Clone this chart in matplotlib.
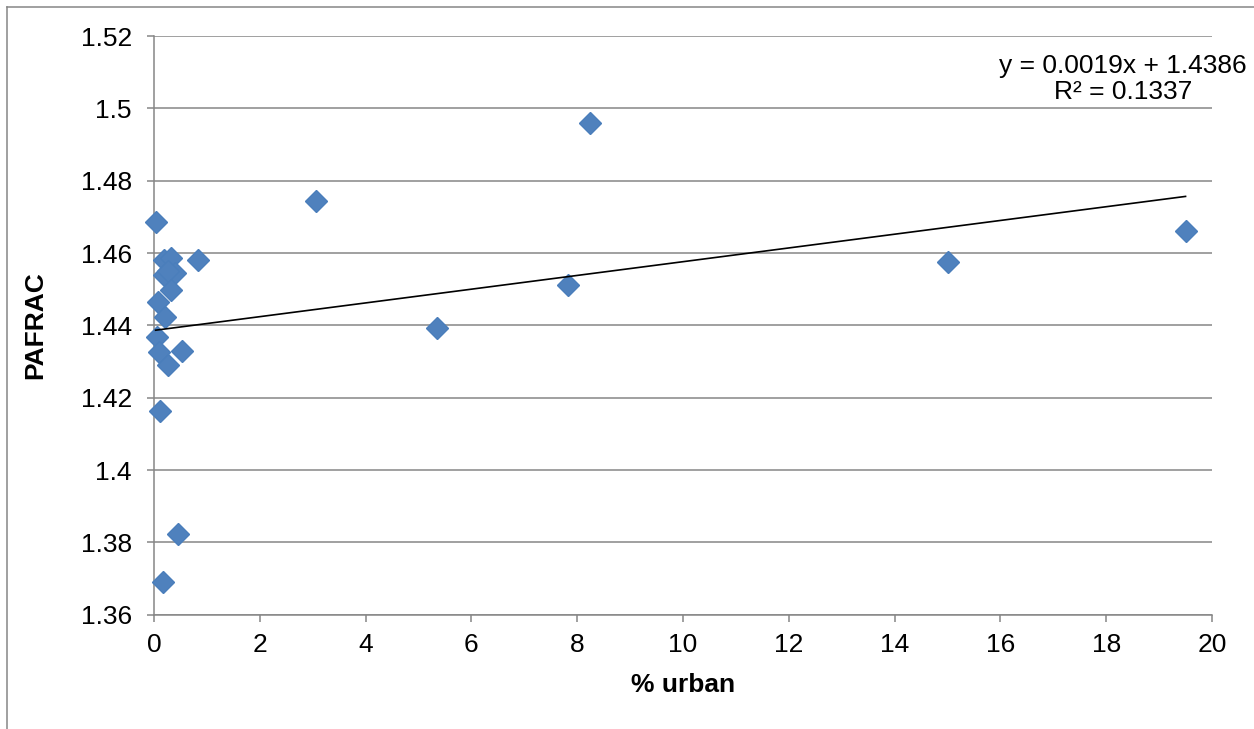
import matplotlib
matplotlib.use("Agg")
import matplotlib.pyplot as plt
from matplotlib.lines import Line2D
from matplotlib.ticker import FuncFormatter, MultipleLocator

plt.rcParams['font.family'] = ['Liberation Sans', 'DejaVu Sans']

# Percent urban land cover vs. PAFRAC
urban_pct = [0.03, 0.18, 0.33, 0.84, 0.18, 0.39, 0.26, 0.33, 0.07, 0.20,
             0.05, 0.10, 0.53, 0.26, 0.12, 0.46, 0.17,
             3.06, 5.35, 7.82, 8.24, 15.01, 19.50]
pafrac = [1.4686, 1.4580, 1.4585, 1.4582, 1.4539, 1.4544, 1.4550, 1.4497, 1.4465, 1.4424,
          1.4367, 1.4327, 1.4329, 1.4290, 1.4163, 1.3824, 1.3690,
          1.4744, 1.4392, 1.4511, 1.4959, 1.4575, 1.4661]

# Linear trendline coefficients
slope = 0.0019
intercept = 1.4386
r_squared = 0.1337

x_ticks = list(range(0, 21, 2))
y_min, y_max, y_step = 1.36, 1.52, 0.02

W, H = 1254, 729
fig = plt.figure(figsize=(W / 100, H / 100), dpi=100)
ax = fig.add_axes([154 / W, 1 - 614.7 / H, (1212 - 154) / W, (614.7 - 36) / H])

grid_c = '#868686'
ax.set_xlim(0, 20)
ax.set_ylim(y_min, y_max)
ax.set_xticks(x_ticks)
ax.yaxis.set_major_locator(MultipleLocator(y_step))
ax.yaxis.set_major_formatter(FuncFormatter(lambda v, p: f"{round(v, 4):g}"))
ax.grid(axis='y', color=grid_c, linewidth=1.1)
ax.set_axisbelow(True)
for s in ('top', 'right'):
    ax.spines[s].set_visible(False)
for s in ('left', 'bottom'):
    ax.spines[s].set_color(grid_c)
    ax.spines[s].set_linewidth(1.1)
ax.tick_params(axis='both', direction='out', length=5, width=1.1, color=grid_c,
               labelsize=19, labelcolor='black')
ax.tick_params(axis='y', pad=11)
ax.tick_params(axis='x', pad=8)

ax.plot(urban_pct, pafrac, linestyle='none', marker='D', markersize=11,
        color='#4F81BD', markeredgecolor='#4A7EBB', zorder=3, clip_on=False)

x0, x1 = min(urban_pct), max(urban_pct)
ax.plot([x0, x1], [slope * x0 + intercept, slope * x1 + intercept],
        color='black', linewidth=1.2, zorder=4)

ax.set_xlabel('% urban', fontsize=19, fontweight='bold', labelpad=12)
ax.set_ylabel('PAFRAC', fontsize=19, fontweight='bold', labelpad=24)

fig.text(1123 / W, 1 - 79 / H,
         f"y = {slope}x + {intercept}\nR² = {r_squared}",
         ha='center', va='center', multialignment='center', fontsize=19,
         linespacing=1.15)

# Chart area frame
fig.add_artist(Line2D([7 / W, 7 / W], [0, 1 - 7 / H], transform=fig.transFigure,
                      color=grid_c, linewidth=1.1))
fig.add_artist(Line2D([7 / W, 1], [1 - 7 / H, 1 - 7 / H], transform=fig.transFigure,
                      color=grid_c, linewidth=1.1))

fig.savefig('out.png', dpi=100)
